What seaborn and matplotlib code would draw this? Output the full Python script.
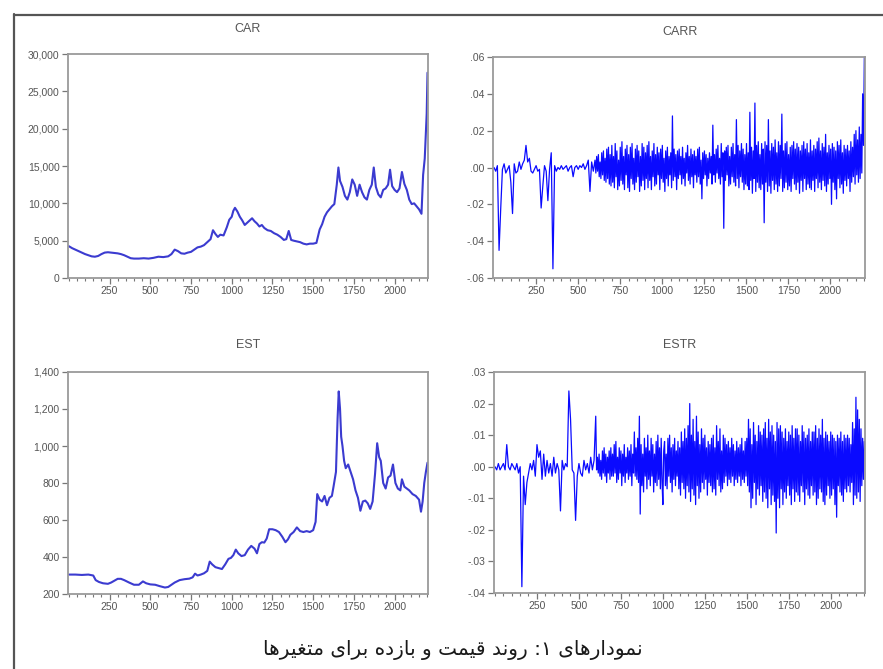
import numpy as np
import pandas as pd
import matplotlib
matplotlib.use("Agg")
import matplotlib.pyplot as plt
from matplotlib.lines import Line2D
from matplotlib.ticker import FixedLocator, FixedFormatter, MultipleLocator
import seaborn as sns

# ---------------- data ----------------
car_x = [1, 20, 40, 60, 80, 100, 120, 140, 160, 180, 200, 220, 240, 260, 280, 300, 320, 340, 360, 380,
         400, 430, 460, 490, 520, 550, 580, 610, 630, 650, 670, 690, 710, 730, 750, 770, 790, 810, 830, 850,
         870, 885, 900, 915, 930, 950, 970, 985, 1000, 1010, 1020, 1035, 1050, 1065, 1080, 1095, 1110, 1125,
         1140, 1155, 1170, 1185, 1200, 1220, 1240, 1260, 1280, 1300, 1320, 1335, 1350, 1365, 1380, 1400,
         1420, 1440, 1460, 1480, 1500, 1520, 1540, 1555, 1570, 1585, 1600, 1615, 1630, 1645, 1655, 1665,
         1680, 1695, 1710, 1725, 1740, 1755, 1770, 1785, 1800, 1815, 1830, 1845, 1860, 1872, 1885, 1900,
         1915, 1930, 1945, 1960, 1972, 1985, 2000, 2015, 2030, 2045, 2060, 2075, 2090, 2105, 2120, 2135,
         2150, 2165, 2175, 2185, 2192, 2197, 2202]
car_val = [4250, 4000, 3800, 3600, 3400, 3200, 3050, 2900, 2850, 2950, 3200, 3400, 3450, 3400, 3350, 3300,
           3200, 3050, 2850, 2650, 2600, 2600, 2650, 2600, 2700, 2850, 2800, 2900, 3200, 3800, 3600, 3300,
           3250, 3400, 3500, 3800, 4100, 4200, 4400, 4800, 5200, 6400, 5900, 5500, 5800, 5700, 6800, 7800,
           8200, 9000, 9400, 8900, 8200, 7700, 7100, 7400, 7700, 8000, 7600, 7300, 6900, 7100, 6700, 6400,
           6300, 6000, 5800, 5500, 5100, 5200, 6300, 5100, 5000, 4900, 4800, 4600, 4500, 4600, 4600, 4700,
           6500, 7200, 8200, 8800, 9200, 9600, 9900, 12500, 14800, 13000, 12200, 11000, 10500, 11500, 13200,
           12500, 11000, 12500, 11500, 10800, 10500, 11800, 12500, 14800, 12200, 11200, 10800, 11800, 12000,
           12500, 14500, 12300, 11800, 11500, 12000, 14200, 12600, 11800, 10500, 9900, 10000, 9600, 9200,
           8600, 13800, 16000, 19500, 22000, 27500]

est_x = [1, 40, 80, 120, 150, 165, 185, 210, 240, 260, 280, 300, 320, 340, 370, 400, 430, 455, 475, 500,
         530, 560, 590, 610, 630, 650, 680, 710, 740, 760, 775, 790, 810, 830, 850, 865, 880, 900, 920, 940,
         960, 980, 995, 1010, 1025, 1040, 1060, 1080, 1100, 1120, 1140, 1155, 1170, 1185, 1200, 1215, 1230,
         1250, 1270, 1290, 1310, 1330, 1345, 1360, 1380, 1400, 1420, 1440, 1460, 1480, 1500, 1515, 1525,
         1540, 1555, 1570, 1585, 1600, 1615, 1625, 1640, 1650, 1657, 1665, 1672, 1680, 1690, 1700, 1715,
         1730, 1745, 1760, 1775, 1790, 1805, 1820, 1835, 1850, 1865, 1880, 1893, 1905, 1915, 1930, 1945,
         1960, 1975, 1990, 2005, 2020, 2035, 2045, 2060, 2075, 2090, 2110, 2130, 2150, 2162, 2172, 2182,
         2192, 2202]
est_val = [305, 305, 303, 305, 300, 275, 265, 258, 255, 262, 272, 282, 282, 275, 262, 250, 250, 268, 258,
           252, 250, 242, 235, 238, 250, 262, 275, 280, 283, 290, 310, 300, 305, 312, 325, 375, 360, 345,
           340, 335, 360, 390, 395, 410, 440, 420, 405, 410, 440, 460, 445, 420, 470, 480, 478, 500, 550,
           550, 545, 535, 510, 480, 495, 520, 535, 560, 540, 535, 540, 535, 545, 590, 740, 710, 700, 730,
           680, 720, 730, 780, 860, 1150, 1295, 1200, 1050, 1000, 920, 880, 900, 860, 820, 760, 720, 650,
           700, 705, 690, 660, 700, 850, 1015, 940, 920, 800, 770, 830, 840, 900, 800, 770, 760, 820, 780,
           770, 760, 740, 730, 710, 645, 700, 800, 860, 910]

# returns in thousandths.
# calm part: one value every 10 observations from observation 1 to 591
carr_calm = [
    0, -2, 1, -45, -22, -1, 2, -3, -1, 1,
    -8, -25, 2, -3, -2, 3, -1, 2, 4, 12,
    3, 5, -2, -3, -1, 1, -2, -1, -22, -10,
    1, -2, -18, -1, 8, -55, 1, -2, 0, -1,
    1, -1, 0, 1, -2, 0, 1, -5, 0, 1,
    -1, 1, 0, 2, -1, 1, 4, -13, 3, -2]
# active part: one value every 5 observations from observation 601 to 2201
carr_active = [
    4, -3, 6, -2, 7, -5, 3, -6, 8, -4, 9, -7, 5, -8, 10, -6, 11, -9, 7, -10,
    12, -8, 6, -11, 13, -5, 9, -12, 4, -10, 11, -7, 14, -9, 6, -12, 10, -4, 12, -11,
    7, -13, 11, -6, 13, -9, 5, -12, 10, -8, 12, -5, 9, -13, 6, -10, 13, -7, 11, -12,
    8, -6, 12, -11, 14, -7, 6, -12, 9, -5, 13, -10, 7, -9, 11, -4, 8, -12, 10, -6,
    12, -8, 5, -13, 9, -6, 11, -10, 6, -4, 8, -11, 28, -7, 10, -5, 7, -12, 9, -6,
    10, -4, 6, -9, 11, -6, 5, -10, 8, -3, 12, -7, 6, -9, 10, -5, 7, -11, 9, -4,
    6, -8, 10, -5, 11, -9, 4, -17, 8, -6, 9, -4, 7, -10, 5, -6, 8, -3, 6, -9,
    23, -4, 7, -8, 10, -3, 12, -6, 5, -9, 13, -5, 8, -33, 9, -7, 11, -4, 12, -10,
    6, -9, 11, -5, 13, -8, 7, -10, 26, -6, 12, -11, 9, -5, 13, -8, 10, -12, 7, -9,
    13, -10, 8, -12, 30, -7, 11, -14, 9, -6, 35, -13, 12, -8, 14, -11, 7, -12, 13, -9,
    10, -30, 14, -8, 12, -13, 26, -10, 9, -14, 13, -7, 11, -12, 15, -9, 8, -13, 14, -10,
    12, -6, 29, -13, 9, -11, 13, -8, 14, -12, 7, -10, 11, -13, 12, -6, 14, -9, 10, -12,
    13, -8, 11, -14, 9, -7, 12, -13, 14, -6, 10, -12, 13, -9, 8, -11, 15, -12, 9, -7,
    12, -13, 10, -6, 14, -11, 16, -8, 9, -12, 13, -7, 11, -10, 18, -13, 8, -9, 12, -6,
    10, -20, 13, -8, 11, -12, 9, -17, 14, -6, 12, -11, 15, -9, 8, -14, 12, -7, 10, -10,
    12, -6, 9, -13, 14, -8, 11, -5, 18, -9, 20, -4, 15, -8, 22, -6, 18, -3, 40, 12,
    60]

estr_calm = [
    0, -1, 1, -1, 0, 1, -1, 7, 0, -1,
    1, 0, -1, 1, -2, 0, -38, -3, -12, -5,
    -2, 1, -1, 2, -3, 7, 3, 5, -4, 4,
    -3, 2, -2, 1, -3, 3, -2, 1, -1, -14,
    2, -1, 1, 0, 24, 15, -1, -2, -17, -3,
    1, -2, -3, 2, -1, 1, -2, 3, -1, 2]
estr_active = [
    16, -1, 3, -2, 4, -3, 2, -4, 5, -2, 6, -3, 4, -5, 3, -2, 5, -4, 6, -3,
    4, -3, 7, -2, 8, -5, 3, -4, 6, -2, 5, -6, 4, -3, 7, -5, 3, -2, 6, -4,
    5, -3, 7, -6, 4, -2, 11, -3, 6, -4, 9, -5, 16, -15, 7, -6, 4, -8, 9, -3,
    6, -7, 10, -4, 5, -6, 9, -3, 7, -8, 4, -5, 8, -6, 10, -4, 6, -7, 9, -5,
    -12, 5, 8, -6, 4, -7, 9, -3, 10, -5, 6, -8, 7, -4, 9, -6, 5, -3, 8, -7,
    6, -9, 11, -5, 8, -7, 12, -10, 9, -6, 13, -8, 20, -11, 10, -7, 15, -9, 8, -12,
    16, -6, 11, -10, 7, -8, 12, -5, 9, -7, 10, -4, 6, -9, 8, -5, 7, -6, 9, -8,
    10, -7, 6, -9, 13, -4, 8, -6, 12, -8, 5, -7, 10, -5, 9, -3, 7, -6, 8, -4,
    6, -5, 9, -3, 7, -6, 5, -4, 8, -5, 6, -3, 7, -6, 9, -4, 5, -5, 8, -3,
    9, -6, 15, -8, 12, -13, 7, -10, 14, -5, 10, -12, 8, -7, 13, -9, 11, -6, 10, -11,
    12, -8, 14, -10, 9, -13, 15, -7, 11, -12, 13, -9, 10, -11, 8, -21, 14, -10, 12, -13,
    13, -7, 11, -12, 9, -8, 12, -10, 8, -6, 11, -9, 10, -12, 13, -7, 9, -11, 12, -8,
    12, -9, 10, -11, 8, -6, 13, -8, 11, -12, 9, -7, 10, -9, 12, -10, 8, -6, 11, -9,
    11, -8, 13, -12, 9, -10, 12, -7, 10, -8, 15, -11, 9, -12, 11, -9, 10, -6, 8, -10,
    11, -9, 10, -7, 9, -12, 8, -16, 10, -6, 9, -8, 11, -9, 8, -11, 10, -7, 9, -8,
    10, -6, 9, -8, 7, -5, 14, -12, 12, -9, 22, -10, 18, -8, 15, -11, 12, -6, 9, -4,
    8]

titles = ["CAR", "CARR", "EST", "ESTR"]
x_ticks = [250, 500, 750, 1000, 1250, 1500, 1750, 2000]
x_ticklabels = ["250", "500", "750", "1000", "1250", "1500", "1750", "2000"]
car_yticks = [0, 5000, 10000, 15000, 20000, 25000, 30000]
car_ylabels = ["0", "5,000", "10,000", "15,000", "20,000", "25,000", "30,000"]
carr_yticks = [-0.06, -0.04, -0.02, 0.0, 0.02, 0.04, 0.06]
carr_ylabels = ["-.06", "-.04", "-.02", ".00", ".02", ".04", ".06"]
est_yticks = [200, 400, 600, 800, 1000, 1200, 1400]
est_ylabels = ["200", "400", "600", "800", "1,000", "1,200", "1,400"]
estr_yticks = [-0.04, -0.03, -0.02, -0.01, 0.0, 0.01, 0.02, 0.03]
estr_ylabels = ["-.04", "-.03", "-.02", "-.01", ".00", ".01", ".02", ".03"]
caption = "نمودارهای ۱: روند قیمت و بازده برای متغیرها"

# ---------------- helpers ----------------
FORMS = {
    'ا': ('\uFE8D', '\uFE8E', None, None),
    'ب': ('\uFE8F', '\uFE90', '\uFE91', '\uFE92'),
    'ت': ('\uFE95', '\uFE96', '\uFE97', '\uFE98'),
    'د': ('\uFEA9', '\uFEAA', None, None),
    'ر': ('\uFEAD', '\uFEAE', None, None),
    'ز': ('\uFEAF', '\uFEB0', None, None),
    'غ': ('\uFECD', '\uFECE', '\uFECF', '\uFED0'),
    'ق': ('\uFED5', '\uFED6', '\uFED7', '\uFED8'),
    'م': ('\uFEE1', '\uFEE2', '\uFEE3', '\uFEE4'),
    'ن': ('\uFEE5', '\uFEE6', '\uFEE7', '\uFEE8'),
    'ه': ('\uFEE9', '\uFEEA', '\uFEEB', '\uFEEC'),
    'و': ('\uFEED', '\uFEEE', None, None),
    'ی': ('\uFBFC', '\uFBFD', '\uFBFE', '\uFBFF'),
}
DUAL = set('بتغقمنهی')
RIGHT = set('ادرزو')


def shape_rtl(s):
    out = []
    for i, c in enumerate(s):
        if c not in FORMS:
            out.append(c)
            continue
        prev = s[i - 1] if i > 0 else ''
        nxt = s[i + 1] if i + 1 < len(s) else ''
        jp = prev in DUAL
        jn = c in DUAL and (nxt in DUAL or nxt in RIGHT)
        iso, fin, ini, med = FORMS[c]
        if jp and jn:
            out.append(med)
        elif jp:
            out.append(fin)
        elif jn:
            out.append(ini)
        else:
            out.append(iso)
    return ''.join(reversed(out))


def returns_frame(calm, active):
    obs = np.concatenate([np.arange(len(calm)) * 10 + 1, np.arange(len(active)) * 5 + 601])
    vals = np.concatenate([np.array(calm), np.array(active)]) / 1000.0
    return pd.DataFrame({"obs": obs, "value": vals})


# ---------------- plotting ----------------
sns.set_theme(style="white")
plt.rcParams['font.family'] = ['Liberation Sans', 'DejaVu Sans']

W, H = 883, 669
fig = plt.figure(figsize=(W / 100, H / 100), dpi=100)
fig.patch.set_facecolor("white")


def px_axes(left, top, right, bottom):
    return fig.add_axes([left / W, 1 - bottom / H, (right - left) / W, (bottom - top) / H])


axes = [px_axes(68, 54, 428, 278), px_axes(493, 57, 865, 278),
        px_axes(68, 372, 428, 594), px_axes(494, 372, 865, 593)]

df_car = pd.DataFrame({"obs": car_x, "value": car_val})
df_est = pd.DataFrame({"obs": est_x, "value": est_val})
df_carr = returns_frame(carr_calm, carr_active)
df_estr = returns_frame(estr_calm, estr_active)

price_color = "#3b3bd0"
ret_color = "#0a0aff"

sns.lineplot(data=df_car, x="obs", y="value", ax=axes[0], color=price_color, lw=1.5, estimator=None)
sns.lineplot(data=df_carr, x="obs", y="value", ax=axes[1], color=ret_color, lw=0.9, estimator=None)
sns.lineplot(data=df_est, x="obs", y="value", ax=axes[2], color=price_color, lw=1.5, estimator=None)
sns.lineplot(data=df_estr, x="obs", y="value", ax=axes[3], color=ret_color, lw=0.9, estimator=None)

ylims = [(0, 30000), (-0.06, 0.06), (200, 1400), (-0.04, 0.03)]
yticks = [car_yticks, carr_yticks, est_yticks, estr_yticks]
ylabels = [car_ylabels, carr_ylabels, est_ylabels, estr_ylabels]
title_pos = [(248, 29), (680, 32), (248, 345), (680, 345)]

for ax, yl, yt, ylab, ttl, tp in zip(axes, ylims, yticks, ylabels, titles, title_pos):
    ax.set_xlim(-5, 2205)
    ax.set_ylim(*yl)
    ax.set_xlabel("")
    ax.set_ylabel("")
    ax.yaxis.set_major_locator(FixedLocator(yt))
    ax.yaxis.set_major_formatter(FixedFormatter(ylab))
    ax.xaxis.set_major_locator(FixedLocator(x_ticks))
    ax.xaxis.set_major_formatter(FixedFormatter(x_ticklabels))
    ax.xaxis.set_minor_locator(MultipleLocator(50))
    ax.tick_params(axis="both", which="major", direction="out", length=4, width=0.9,
                   color="#777777", labelsize=7.5, labelcolor="#555555", pad=2,
                   bottom=True, left=True)
    ax.tick_params(axis="x", which="minor", direction="out", length=2.5, width=0.8,
                   color="#777777", bottom=True)
    for sp in ax.spines.values():
        sp.set_color("#9a9a9a")
        sp.set_linewidth(1.3)
        sp.set_visible(True)
    fig.text(tp[0] / W, 1 - tp[1] / H, ttl, ha="center", va="center",
             fontsize=9, color="#555555")

# outer frame (left and top only)
fig.add_artist(Line2D([14 / W, 14 / W], [0, 1 - 14 / H], transform=fig.transFigure,
                      color="#555555", lw=1.6))
fig.add_artist(Line2D([14 / W, 1], [1 - 15 / H, 1 - 15 / H], transform=fig.transFigure,
                      color="#555555", lw=1.6))

fig.text(453 / W, 1 - 650 / H, shape_rtl(caption), ha="center", va="center",
         fontsize=14.5, color="#1a1a1a", family=["DejaVu Sans"])

fig.savefig("out.png", dpi=100, facecolor="white")
